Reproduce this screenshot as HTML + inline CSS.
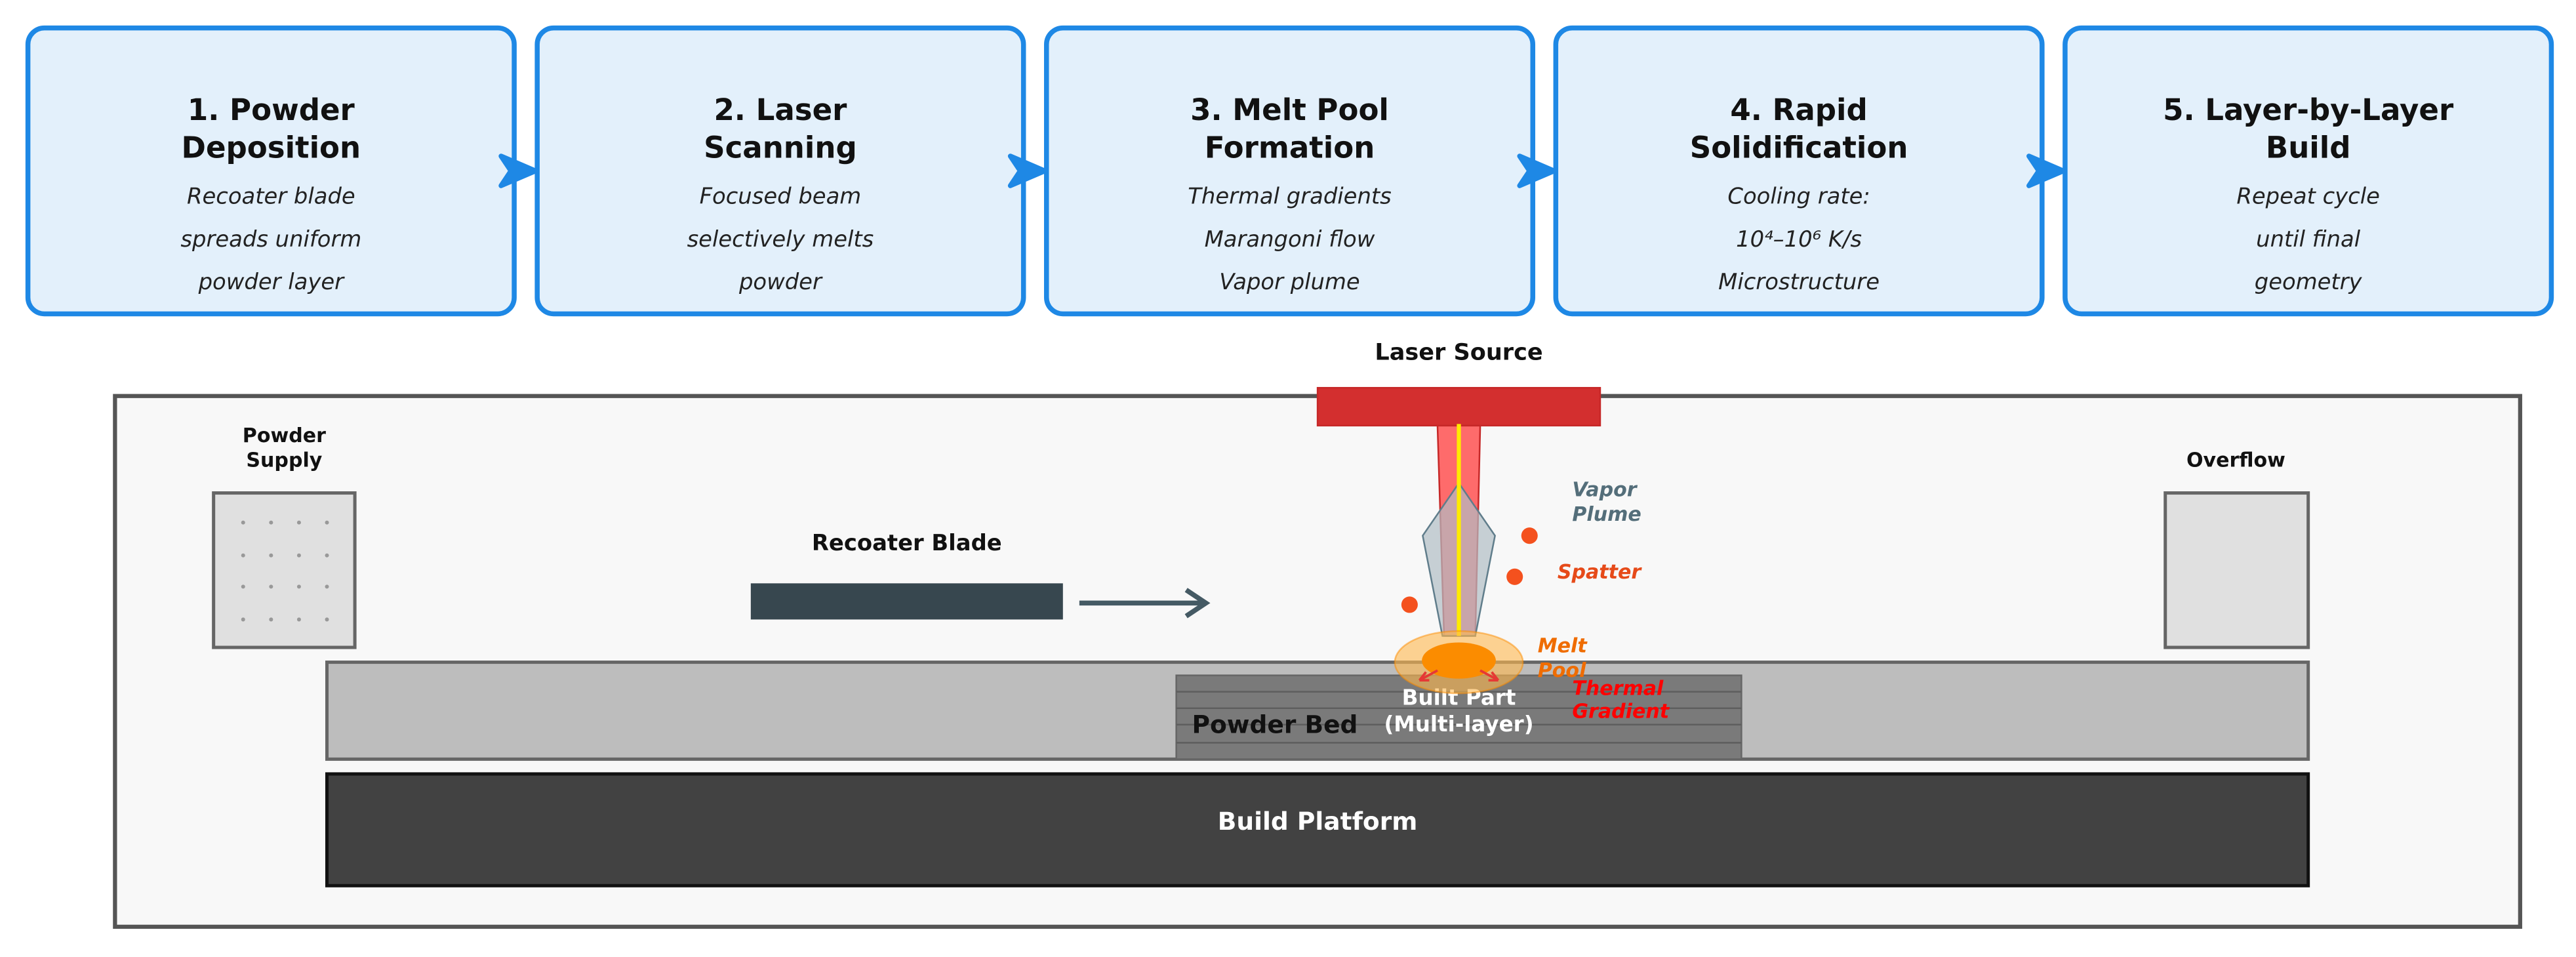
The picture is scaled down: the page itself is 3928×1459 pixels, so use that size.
<!DOCTYPE html>
<html><head><meta charset="utf-8"><style>html,body{margin:0;padding:0;background:#fff}svg{display:block}</style></head>
<body>
<svg width="3928" height="1459" viewBox="0 0 1568 582.4" xmlns="http://www.w3.org/2000/svg" font-family="DejaVu Sans, Liberation Sans, sans-serif">
<rect width="1568" height="582.4" fill="#fff"/>
<g fill="#e3f0fb" stroke="#1e88e5" stroke-width="3">
<rect x="17" y="17" width="296" height="174" rx="10"/>
<rect x="327" y="17" width="296" height="174" rx="10"/>
<rect x="637" y="17" width="296" height="174" rx="10"/>
<rect x="947" y="17" width="296" height="174" rx="10"/>
<rect x="1257" y="17" width="296" height="174" rx="10"/>
</g>
<g fill="#1e88e5" stroke="#1e88e5" stroke-width="3" stroke-linejoin="round" stroke-linecap="round">
<path d="M305,95 L326,104 L305,113 L311,104 Z"/>
<path d="M615,95 L636,104 L615,113 L621,104 Z"/>
<path d="M925,95 L946,104 L925,113 L931,104 Z"/>
<path d="M1235,95 L1256,104 L1235,113 L1241,104 Z"/>
</g>
<g text-anchor="middle" font-weight="bold" font-size="18" fill="#111">
<text x="165" y="73">1. Powder</text><text x="165" y="96">Deposition</text>
<text x="475" y="73">2. Laser</text><text x="475" y="96">Scanning</text>
<text x="785" y="73">3. Melt Pool</text><text x="785" y="96">Formation</text>
<text x="1095" y="73">4. Rapid</text><text x="1095" y="96">Solidification</text>
<text x="1405" y="73">5. Layer-by-Layer</text><text x="1405" y="96">Build</text>
</g>
<g text-anchor="middle" font-style="italic" font-size="13.5" fill="#222">
<text x="165" y="124">Recoater blade</text><text x="165" y="150">spreads uniform</text><text x="165" y="176">powder layer</text>
<text x="475" y="124">Focused beam</text><text x="475" y="150">selectively melts</text><text x="475" y="176">powder</text>
<text x="785" y="124">Thermal gradients</text><text x="785" y="150">Marangoni flow</text><text x="785" y="176">Vapor plume</text>
<text x="1095" y="124">Cooling rate:</text><text x="1095" y="150">10⁴–10⁶ K/s</text><text x="1095" y="176">Microstructure</text>
<text x="1405" y="124">Repeat cycle</text><text x="1405" y="150">until final</text><text x="1405" y="176">geometry</text>
</g>
<text x="888" y="219" text-anchor="middle" font-weight="bold" font-size="14" fill="#111">Laser Source</text>
<rect x="70" y="241" width="1464" height="323" fill="#f8f8f8" stroke="#555" stroke-width="2.5"/>
<rect x="130" y="300" width="86" height="94" fill="#e0e0e0" stroke="#666" stroke-width="2"/>
<g fill="#999">
<circle cx="148" cy="318" r="1.2"/><circle cx="165" cy="318" r="1.2"/><circle cx="182" cy="318" r="1.2"/><circle cx="199" cy="318" r="1.2"/>
<circle cx="148" cy="338" r="1.2"/><circle cx="165" cy="338" r="1.2"/><circle cx="182" cy="338" r="1.2"/><circle cx="199" cy="338" r="1.2"/>
<circle cx="148" cy="357" r="1.2"/><circle cx="165" cy="357" r="1.2"/><circle cx="182" cy="357" r="1.2"/><circle cx="199" cy="357" r="1.2"/>
<circle cx="148" cy="377" r="1.2"/><circle cx="165" cy="377" r="1.2"/><circle cx="182" cy="377" r="1.2"/><circle cx="199" cy="377" r="1.2"/>
</g>
<g text-anchor="middle" font-weight="bold" font-size="12" fill="#111">
<text x="173" y="269">Powder</text><text x="173" y="284">Supply</text>
<text x="1361" y="284">Overflow</text>
</g>
<text x="552" y="335" text-anchor="middle" font-weight="bold" font-size="13.5" fill="#111">Recoater Blade</text>
<rect x="457" y="355" width="190" height="22" fill="#37474f"/>
<path d="M657,367 L734,367 M722,359 L734,367 L722,375" fill="none" stroke="#455a64" stroke-width="3"/>
<rect x="1318" y="300" width="87" height="94" fill="#e0e0e0" stroke="#666" stroke-width="2"/>
<rect x="199" y="403" width="1206" height="59" fill="#bdbdbd" stroke="#666" stroke-width="2"/>
<rect x="716" y="411" width="344" height="51" fill="#7a7a7a" stroke="#666" stroke-width="1"/>
<g stroke="#5e5e5e" stroke-width="1"><line x1="716" y1="421" x2="1060" y2="421"/><line x1="716" y1="431" x2="1060" y2="431"/><line x1="716" y1="441" x2="1060" y2="441"/><line x1="716" y1="452" x2="1060" y2="452"/></g>
<rect x="199" y="471" width="1206" height="68" fill="#424242" stroke="#111" stroke-width="2"/>
<text x="802" y="505" text-anchor="middle" font-weight="bold" font-size="15" fill="#fff">Build Platform</text>
<text x="776" y="446" text-anchor="middle" font-weight="bold" font-size="15" fill="#111">Powder Bed</text>
<text x="888" y="429" text-anchor="middle" font-weight="bold" font-size="13" fill="#fff">Built Part</text>
<text x="888" y="445" text-anchor="middle" font-weight="bold" font-size="13" fill="#fff">(Multi-layer)</text>
<rect x="802" y="236" width="172" height="23" fill="#d32f2f" stroke="#c62828" stroke-width="1"/>
<path d="M875,259 L901,259 L898,387 L879,387 Z" fill="#ff5252" fill-opacity="0.85" stroke="#c62828" stroke-width="1"/>
<path d="M888,294 L910,326 L898,387 L878,387 L866,326 Z" fill="#b0bec5" fill-opacity="0.7" stroke="#607d8b" stroke-width="1"/>
<line x1="888" y1="258" x2="888" y2="387" stroke="#ffeb00" stroke-width="2.5"/>
<circle cx="931" cy="326" r="5" fill="#f4511e"/><circle cx="922" cy="351" r="5" fill="#f4511e"/><circle cx="858" cy="368" r="5" fill="#f4511e"/>
<ellipse cx="888" cy="403" rx="39" ry="19" fill="#ffb74d" fill-opacity="0.6" stroke="#fb8c00" stroke-opacity="0.5"/>
<ellipse cx="888" cy="402" rx="22.5" ry="11" fill="#fb8c00"/>
<g stroke="#e53935" stroke-width="1.5" fill="none"><path d="M875,408 L864,414 M864,414 L868,409 M864,414 L870,414"/><path d="M901,408 L912,414 M912,414 L908,409 M912,414 L906,414"/></g>
<g font-style="italic" font-weight="bold" font-size="12">
<text x="957" y="302" fill="#546e7a">Vapor</text><text x="957" y="317" fill="#546e7a">Plume</text>
<text x="948" y="352" fill="#e64a19">Spatter</text>
<text x="936" y="397" fill="#ef6c00">Melt</text><text x="936" y="412" fill="#ef6c00">Pool</text>
<text x="957" y="423" fill="#f00">Thermal</text><text x="957" y="437" fill="#f00">Gradient</text>
</g>
</svg>
</body></html>
